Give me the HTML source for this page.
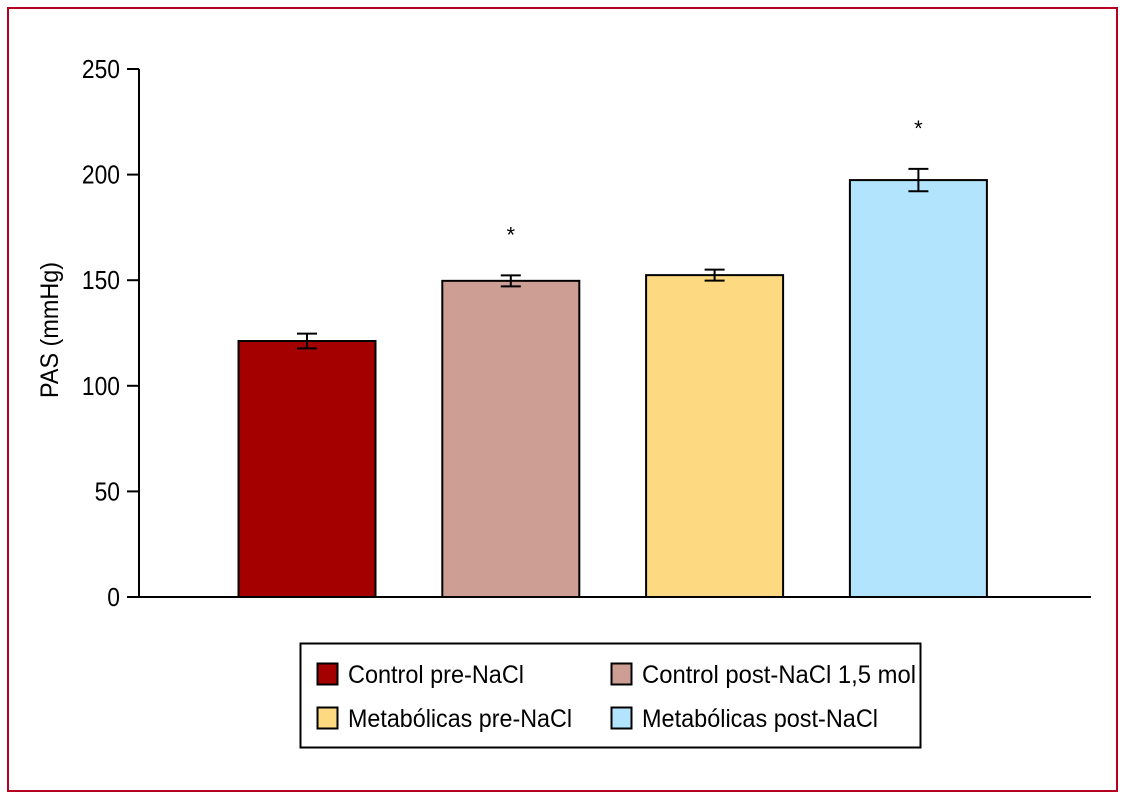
<!DOCTYPE html>
<html><head><meta charset="utf-8"><style>
html,body{margin:0;padding:0;background:#fff;}
svg{display:block;font-family:"Liberation Sans",sans-serif;}
</style></head><body>
<svg id="chart" width="1128" height="802" viewBox="0 0 1128 802">
<rect x="8" y="8" width="1109" height="783" fill="#fff" stroke="#b5001f" stroke-width="2"/>
<text transform="translate(58,330) rotate(-90)" text-anchor="middle" font-size="25" textLength="136" lengthAdjust="spacingAndGlyphs">PAS (mmHg)</text>
<g id="axes"></g><g id="bars"></g>
<rect x="300.5" y="643.5" width="620" height="104" fill="#fff" stroke="#000" stroke-width="2"/>
<g><rect x="317.5" y="663.5" width="20" height="21" fill="#a50000" stroke="#000" stroke-width="2"/><text x="348" y="683" font-size="25" textLength="176" lengthAdjust="spacingAndGlyphs">Control pre-NaCl</text></g>
<g><rect x="611.5" y="663.5" width="20" height="21" fill="#cc9e94" stroke="#000" stroke-width="2"/><text x="642" y="683" font-size="25" textLength="274" lengthAdjust="spacingAndGlyphs">Control post-NaCl 1,5 mol</text></g>
<g><rect x="317.5" y="707.5" width="20" height="21" fill="#fdd982" stroke="#000" stroke-width="2"/><text x="348" y="727" font-size="25" textLength="224" lengthAdjust="spacingAndGlyphs">Metabólicas pre-NaCl</text></g>
<g><rect x="611.5" y="707.5" width="20" height="21" fill="#b3e4fd" stroke="#000" stroke-width="2"/><text x="642" y="727" font-size="25" textLength="236" lengthAdjust="spacingAndGlyphs">Metabólicas post-NaCl</text></g>
</svg>
<script>
const categories = ["Control pre-NaCl","Control post-NaCl 1,5 mol","Metabólicas pre-NaCl","Metabólicas post-NaCl"];
const values = [121.2, 149.7, 152.4, 197.4];
const errors = [3.5, 2.6, 2.6, 5.3];
const significant = [false, true, false, true];
const colors = ["#a50000","#cc9e94","#fdd982","#b3e4fd"];
const ticks = [0, 50, 100, 150, 200, 250];
const tickLabels = ["0","50","100","150","200","250"];

const NS = "http://www.w3.org/2000/svg";
function y(v){ return 597 - v * (528/250); }
function xc(i){ return 307 + i * 203.8; }
const barW = 137;
function mk(tag, attrs, parent){ const e = document.createElementNS(NS, tag); for (const k in attrs) e.setAttribute(k, attrs[k]); parent.appendChild(e); return e; }

const axes = document.getElementById('axes');
const yl = mk('line', {x1:139, y1:y(250), x2:139, y2:598, stroke:'#000', 'stroke-width':2}, axes);


const xl = mk('line', {x1:138, y1:597, x2:1091, y2:597, stroke:'#000', 'stroke-width':2}, axes);


ticks.forEach((t, i) => {
  const tk = mk('line', {x1:127, y1:y(t), x2:139, y2:y(t), stroke:'#000', 'stroke-width':2}, axes);
  
  
  const lb = mk('text', {x:120, y:y(t)+9, 'text-anchor':'end', 'font-size':26, textLength: tickLabels[i].length*12.7, lengthAdjust:'spacingAndGlyphs'}, axes);
  lb.textContent = tickLabels[i];
  
  
});

const bars = document.getElementById('bars');
values.forEach((v, i) => {
  const cx = xc(i);
  const r = mk('rect', {x:cx-barW/2, y:y(v), width:barW, height:597-y(v), fill:colors[i], stroke:'#000', 'stroke-width':2}, bars);
  
  
  const g = mk('g', {stroke:'#000', 'stroke-width':2}, bars);
  
  
  const top = y(v + errors[i]), bot = y(v - errors[i]);
  mk('line', {x1:cx, y1:top, x2:cx, y2:bot}, g);
  mk('line', {x1:cx-10, y1:top, x2:cx+10, y2:top}, g);
  mk('line', {x1:cx-10, y1:bot, x2:cx+10, y2:bot}, g);
  if (significant[i]) {
    const s = mk('text', {x:cx, y:top-33, 'text-anchor':'middle', 'font-size':22}, bars);
    s.textContent = '*';
    
    
  }
});
</script>
</body></html>
